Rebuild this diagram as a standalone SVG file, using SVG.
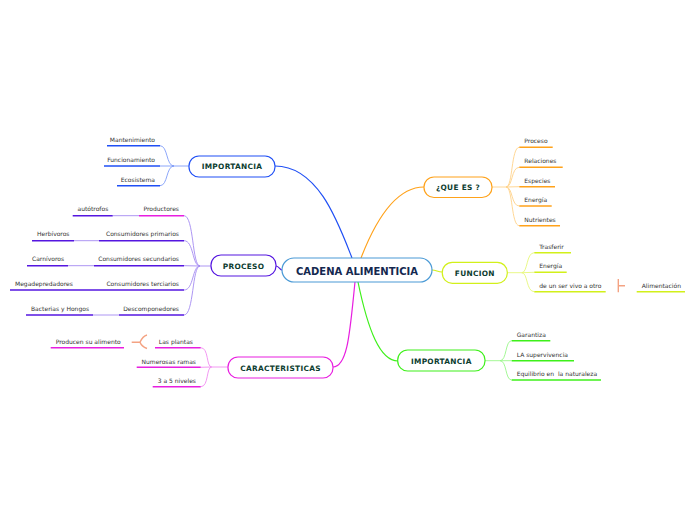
<svg xmlns="http://www.w3.org/2000/svg" width="696" height="520" viewBox="0 0 696 520">
<style>
.leaf{font-family:"DejaVu Sans",Verdana,sans-serif;font-size:6px;fill:#333333}
.nt{font-family:"DejaVu Sans",Verdana,sans-serif;font-size:7.4px;font-weight:bold;fill:#0d3d30;text-anchor:middle;letter-spacing:0.3px}
.ct{font-family:"DejaVu Sans",Verdana,sans-serif;font-size:10px;font-weight:bold;fill:#14284f;text-anchor:middle}
.box{fill:#ffffff;stroke-width:1.2}
.u{fill:none;stroke-width:1.6}
.c{fill:none;stroke-width:0.9}
.m{fill:none;stroke-width:1.2}
.blue{stroke:#1f4ff5}.bluel{stroke:#7f9cf8}
.pur{stroke:#5516e0}.purl{stroke:#a48af2}
.mag{stroke:#e81ee0}.magl{stroke:#f08cf0}
.ora{stroke:#ffa21a}.oral{stroke:#ffd28a}
.yel{stroke:#d2f01a}.yell{stroke:#e6f77a}
.grn{stroke:#3ef01a}.grnl{stroke:#9af78a}
.rel{fill:none;stroke:#f4a383;stroke-width:1.4}
</style>
<g id="connectors">
<path class="m blue" d="M275,166 C318,166 338,222 352,258"/>
<path class="m pur" d="M276,266 C279,266 280,270 282,270"/>
<path class="m mag" d="M355,282 C350,330 348,367 333,367"/>
<path class="m ora" d="M361,258 C378,214 398,187 424,187"/>
<path class="m yel" d="M432,270 C436,270 438,272 442,272"/>
<path class="m grn" d="M358,282 C368,330 380,361 398,361"/>
<path class="c bluel" d="M189,166 L172,166"/>
<path class="c bluel" d="M160,145.7 C168,145.7 166,166 174,166"/>
<path class="c bluel" d="M160,166 L174,166"/>
<path class="c bluel" d="M160,185.7 C168,185.7 166,166 174,166"/>
<path class="c purl" d="M211,266 L200,266"/>
<path class="c purl" d="M184,215.7 C194,215.7 192,266 200,266"/>
<path class="c purl" d="M184,240.7 C194,240.7 192,266 200,266"/>
<path class="c purl" d="M184,265.7 L200,266"/>
<path class="c purl" d="M184,290 C194,290 192,266 200,266"/>
<path class="c purl" d="M184,315 C194,315 192,266 200,266"/>
<path class="c purl" d="M112.7,215.7 L139,215.7"/>
<path class="c purl" d="M74,240.7 L99,240.7"/>
<path class="c purl" d="M68,265.7 L94,265.7"/>
<path class="c purl" d="M93,315 L119,315"/>
<path class="c magl" d="M228,367 L211.7,367"/>
<path class="c magl" d="M200.7,347.7 C209,347.7 206,367 211.7,367"/>
<path class="c magl" d="M200.7,367.3 L211.7,367"/>
<path class="c magl" d="M200.7,386.7 C209,386.7 206,367 211.7,367"/>
<path class="c oral" d="M491.7,187 L506,187"/>
<path class="c oral" d="M506,187 C513,187 511,147.3 519.3,147.3"/>
<path class="c oral" d="M506,187 C513,187 511,167.3 519.3,167.3"/>
<path class="c oral" d="M506,187 L519.3,186.7"/>
<path class="c oral" d="M506,187 C513,187 511,206 519.3,206"/>
<path class="c oral" d="M506,187 C513,187 511,225.7 519.3,225.7"/>
<path class="c yell" d="M507.3,272.7 L521.7,272.7"/>
<path class="c yell" d="M521.7,272.7 C528,272.7 526,252.7 534.3,252.7"/>
<path class="c yell" d="M521.7,272.7 L534.3,272.3"/>
<path class="c yell" d="M521.7,272.7 C528,272.7 526,291.7 534.3,291.7"/>
<path class="c grnl" d="M485,360.7 L500,360.7"/>
<path class="c grnl" d="M500,360.7 C507,360.7 505,340.7 511.7,340.7"/>
<path class="c grnl" d="M500,360.7 L511.7,360.7"/>
<path class="c grnl" d="M500,360.7 C507,360.7 505,380 511.7,380"/>
<path class="rel" d="M131.7,342.3 L140,342.3 M147,335 C143,336 141,340 140,342.3 C141,345 143,347 147,348.5"/>
<path class="rel" d="M618.3,279 L618.3,292.3 M618.3,285.7 L625,285.7"/>
</g>
<g id="center">
<rect class="box" x="282" y="258" width="150" height="24" rx="12" style="stroke:#4a9ad6"/>
<text class="ct" x="357" y="274.5">CADENA ALIMENTICIA</text>
</g>
<g id="importancia-izq">
<rect class="box blue" x="189" y="156" width="86" height="21" rx="10"/>
<text class="nt" x="232" y="169.3">IMPORTANCIA</text>
</g>
<g id="mantenimiento"><path class="u blue" d="M107,145.7 H160"/><text class="leaf" x="155" y="142" text-anchor="end">Mantenimiento</text></g>
<g id="funcionamiento"><path class="u blue" d="M104,166 H160"/><text class="leaf" x="155" y="162" text-anchor="end">Funcionamiento</text></g>
<g id="ecosistema"><path class="u blue" d="M117,185.7 H160"/><text class="leaf" x="155" y="182" text-anchor="end">Ecosistema</text></g>
<g id="proceso">
<rect class="box pur" x="211" y="255" width="65" height="21" rx="10"/>
<text class="nt" x="243.5" y="268.5">PROCESO</text>
</g>
<g id="productores"><path class="u mag" d="M139,215.7 H184"/><text class="leaf" x="179" y="211" text-anchor="end">Productores</text></g>
<g id="autotrofos"><path class="u pur" d="M72.7,215.7 H112.7"/><text class="leaf" x="77.5" y="211">autótrofos</text></g>
<g id="cprimarios"><path class="u pur" d="M99,240.7 H184"/><text class="leaf" x="179" y="236" text-anchor="end">Consumidores primarios</text></g>
<g id="herbivoros"><path class="u pur" d="M32,240.7 H74"/><text class="leaf" x="37" y="236">Herbívoros</text></g>
<g id="csecundarios"><path class="u pur" d="M94,265.7 H184"/><text class="leaf" x="179" y="261" text-anchor="end">Consumidores secundarios</text></g>
<g id="carnivoros"><path class="u pur" d="M27,265.7 H68"/><text class="leaf" x="32" y="261">Carnívoros</text></g>
<g id="cterciarios"><path class="u pur" d="M76,290 H184"/><text class="leaf" x="179" y="286" text-anchor="end">Consumidores terciarios</text></g>
<g id="megadepredadores"><path class="u pur" d="M10,290 H76"/><text class="leaf" x="15" y="286">Megadepredadores</text></g>
<g id="descomponedores"><path class="u pur" d="M119,315 H184"/><text class="leaf" x="179" y="311" text-anchor="end">Descomponedores</text></g>
<g id="bacterias"><path class="u pur" d="M26,315 H93"/><text class="leaf" x="31" y="311">Bacterias y Hongos</text></g>
<g id="caracteristicas">
<rect class="box mag" x="228" y="357" width="105" height="21" rx="10"/>
<text class="nt" x="280.5" y="370.5">CARACTERISTICAS</text>
</g>
<g id="plantas"><path class="u mag" d="M155,347.7 H200.7"/><text class="leaf" x="193" y="344" text-anchor="end">Las plantas</text></g>
<g id="producen"><path class="u mag" d="M50.7,347.7 H124"/><text class="leaf" x="55.7" y="344">Producen su alimento</text></g>
<g id="ramas"><path class="u mag" d="M136.7,367.3 H200.7"/><text class="leaf" x="196" y="363.5" text-anchor="end">Numerosas ramas</text></g>
<g id="niveles"><path class="u mag" d="M152.7,386.7 H200.7"/><text class="leaf" x="196" y="383" text-anchor="end">3 a 5 niveles</text></g>
<g id="quees">
<rect class="box ora" x="424" y="177" width="68" height="20.5" rx="10"/>
<text class="nt" x="458" y="190">¿QUE ES ?</text>
</g>
<g id="q-proceso"><path class="u ora" d="M519.3,147.3 H552.7"/><text class="leaf" x="524.3" y="143">Proceso</text></g>
<g id="q-relaciones"><path class="u ora" d="M519.3,167.3 H562.7"/><text class="leaf" x="524.3" y="163">Relaciones</text></g>
<g id="q-especies"><path class="u ora" d="M519.3,186.7 H555"/><text class="leaf" x="524.3" y="182.5">Especies</text></g>
<g id="q-energia"><path class="u ora" d="M519.3,206 H551.7"/><text class="leaf" x="524.3" y="202">Energía</text></g>
<g id="q-nutrientes"><path class="u ora" d="M519.3,225.7 H560"/><text class="leaf" x="524.3" y="221.5">Nutrientes</text></g>
<g id="funcion">
<rect class="box yel" x="442.3" y="262.3" width="65" height="21" rx="10"/>
<text class="nt" x="474.8" y="275.8">FUNCION</text>
</g>
<g id="f-trasferir"><path class="u yel" d="M534.3,252.7 H571"/><text class="leaf" x="539.3" y="248.7">Trasferir</text></g>
<g id="f-energia"><path class="u yel" d="M534.3,272.3 H566.7"/><text class="leaf" x="539.3" y="268">Energía</text></g>
<g id="f-servivo"><path class="u yel" d="M534.3,291.7 H605.7"/><text class="leaf" x="539.3" y="287.7">de un ser vivo a otro</text></g>
<g id="f-alimentacion"><path class="u yel" d="M636.7,291.7 H685"/><text class="leaf" x="641.7" y="287.7">Alimentación</text></g>
<g id="importancia-der">
<rect class="box grn" x="397.7" y="350" width="87.3" height="21" rx="10"/>
<text class="nt" x="441.3" y="363.5">IMPORTANCIA</text>
</g>
<g id="i-garantiza"><path class="u grn" d="M511.7,340.7 H550.3"/><text class="leaf" x="516.7" y="337">Garantiza</text></g>
<g id="i-supervivencia"><path class="u grn" d="M511.7,360.7 H574"/><text class="leaf" x="516.7" y="356.5">LA supervivencia</text></g>
<g id="i-equilibrio"><path class="u grn" d="M511.7,380 H601"/><text class="leaf" x="516.7" y="376" xml:space="preserve">Equilibrio en  la naturaleza</text></g>
</svg>
